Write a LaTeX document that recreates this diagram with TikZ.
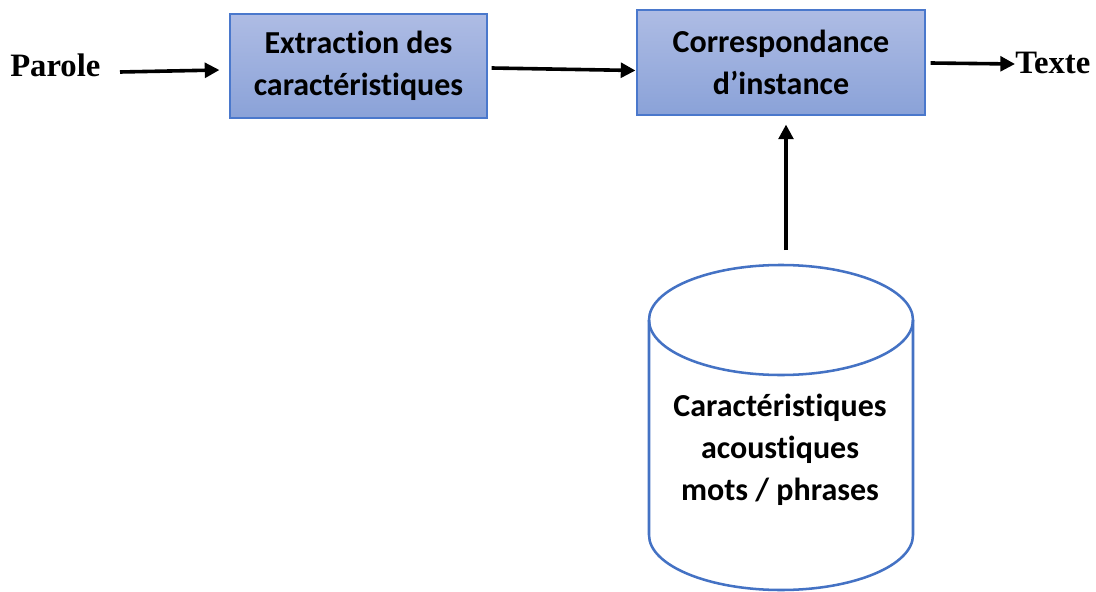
\documentclass[tikz,border=0pt]{standalone}
\usepackage{fontspec}
\setmainfont{Liberation Serif}
\newfontfamily\boxfont[Ligatures=NoCommon]{Carlito}
\usetikzlibrary{arrows.meta}
\definecolor{boxtop}{HTML}{AEBCE4}
\definecolor{boxbot}{HTML}{8AA2D8}
\definecolor{boxline}{HTML}{4A78CC}
\definecolor{dbline}{HTML}{4472C4}
\begin{document}
\begin{tikzpicture}[x=0.75pt,y=-0.75pt,
  procbox/.style={shade, top color=boxtop, bottom color=boxbot, draw=boxline,
    line width=0.8pt, inner sep=0pt, align=center,
    font=\boxfont\bfseries\fontsize{24}{31.5}\selectfont},
  endlabel/.style={inner sep=0pt, font=\bfseries\fontsize{24.5}{28}\selectfont},
  arr/.style={line width=2.7pt, -{Triangle[length=11pt,width=11pt]}},
  dbtext/.style={inner sep=0pt, align=center,
    font=\boxfont\bfseries\fontsize{24}{31.5}\selectfont}]
\useasboundingbox (0,0) rectangle (1096,592);

% processing blocks
\node[procbox, minimum width=192.75pt, minimum height=78pt] (extract) at (358.5,66)
  {Extraction des\\caractéristiques};
\node[procbox, minimum width=216pt, minimum height=78.75pt] (match) at (781,62.5)
  {Correspondance\\d’instance};

% input and output labels
\node[endlabel, anchor=base west] (parole) at (10,77) {Parole};
\node[endlabel, anchor=base west] (texte) at (1015,74) {Texte};

% reference database drawn as a cylinder
\draw[dbline, line width=1.9pt, fill=white]
  (649,320) -- (649,535) arc[start angle=180, end angle=0, x radius=132, y radius=55]
  -- (913,320);
\draw[dbline, line width=1.9pt] (781,320) ellipse[x radius=132, y radius=55];
\node[dbtext] (db) at (780,450) {Caractéristiques\\acoustiques\\mots / phrases};
\coordinate (dbtop) at (786,250);

% signal flow
\draw[arr] ([shift={(110,-5)}]parole.base west) -- ([shift={(-10,4)}]extract.west);
\draw[arr] ([shift={(4,2)}]extract.east) -- ([shift={(-1,8)}]match.west);
\draw[arr] ([shift={(5,0.5)}]match.east) -- ([shift={(0,-10)}]texte.base west);
\draw[arr] (dbtop) -- ([shift={(5,9)}]match.south);
\end{tikzpicture}
\end{document}
